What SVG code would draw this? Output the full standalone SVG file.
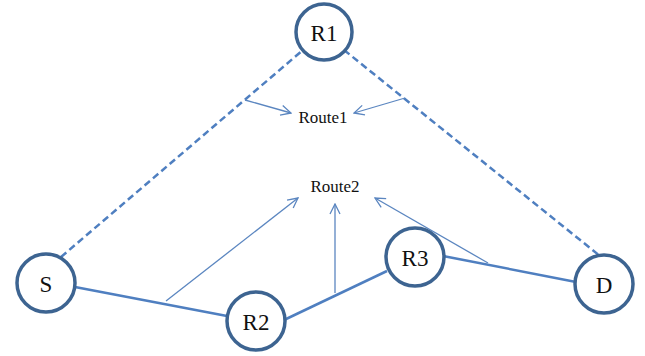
<svg xmlns="http://www.w3.org/2000/svg" width="645" height="356" viewBox="0 0 645 356">
<defs>
<marker id="open" viewBox="0 0 12 12" refX="11" refY="6" markerWidth="12" markerHeight="12" markerUnits="userSpaceOnUse" orient="auto">
<path d="M1,1 L11,6 L1,11" fill="none" stroke="#5b86c0" stroke-width="1.3"/>
</marker>
</defs>
<style>
.node circle{fill:#fff;stroke:#3d6491;stroke-width:3.5}
.node text{font-family:"Liberation Serif",serif;font-size:23px;fill:#111;text-anchor:middle;dominant-baseline:central}
.link{stroke:#4f7fc0;stroke-width:2.5;fill:none}
.dash{stroke:#4f7fc0;stroke-width:2.5;fill:none;stroke-dasharray:7 4}
.arr{stroke:#5b86c0;stroke-width:1.3;fill:none;marker-end:url(#open)}
.lbl{font-family:"Liberation Serif",serif;font-size:17px;fill:#111;text-anchor:middle}
</style>
<rect width="645" height="356" fill="#fff"/>
<g id="connectors">
<line class="dash" x1="61" y1="257" x2="303" y2="50"/>
<line class="dash" x1="344" y1="50" x2="600" y2="256"/>
<line class="link" x1="75" y1="287" x2="227" y2="316"/>
<line class="link" x1="284" y1="320" x2="387" y2="271"/>
<line class="link" x1="443" y1="256" x2="576" y2="282"/>
<line class="arr" x1="245" y1="100" x2="291" y2="113"/>
<line class="arr" x1="405" y1="98" x2="354" y2="113"/>
<line class="arr" x1="166" y1="301" x2="298" y2="198"/>
<line class="arr" x1="335" y1="293" x2="335" y2="204"/>
<line class="arr" x1="488" y1="263" x2="375" y2="198"/>
</g>
<g id="route1"><text class="lbl" x="323" y="123">Route1</text></g>
<g id="route2"><text class="lbl" x="335" y="192">Route2</text></g>
<g id="R1" class="node"><circle cx="324" cy="32" r="28"/><text x="324" y="33">R1</text></g>
<g id="S" class="node"><circle cx="46" cy="283" r="29"/><text x="46" y="284">S</text></g>
<g id="D" class="node"><circle cx="604" cy="284" r="29"/><text x="604" y="285">D</text></g>
<g id="R2" class="node"><circle cx="256" cy="321" r="29"/><text x="256" y="322">R2</text></g>
<g id="R3" class="node"><circle cx="415" cy="257" r="29"/><text x="415" y="258">R3</text></g>
</svg>
